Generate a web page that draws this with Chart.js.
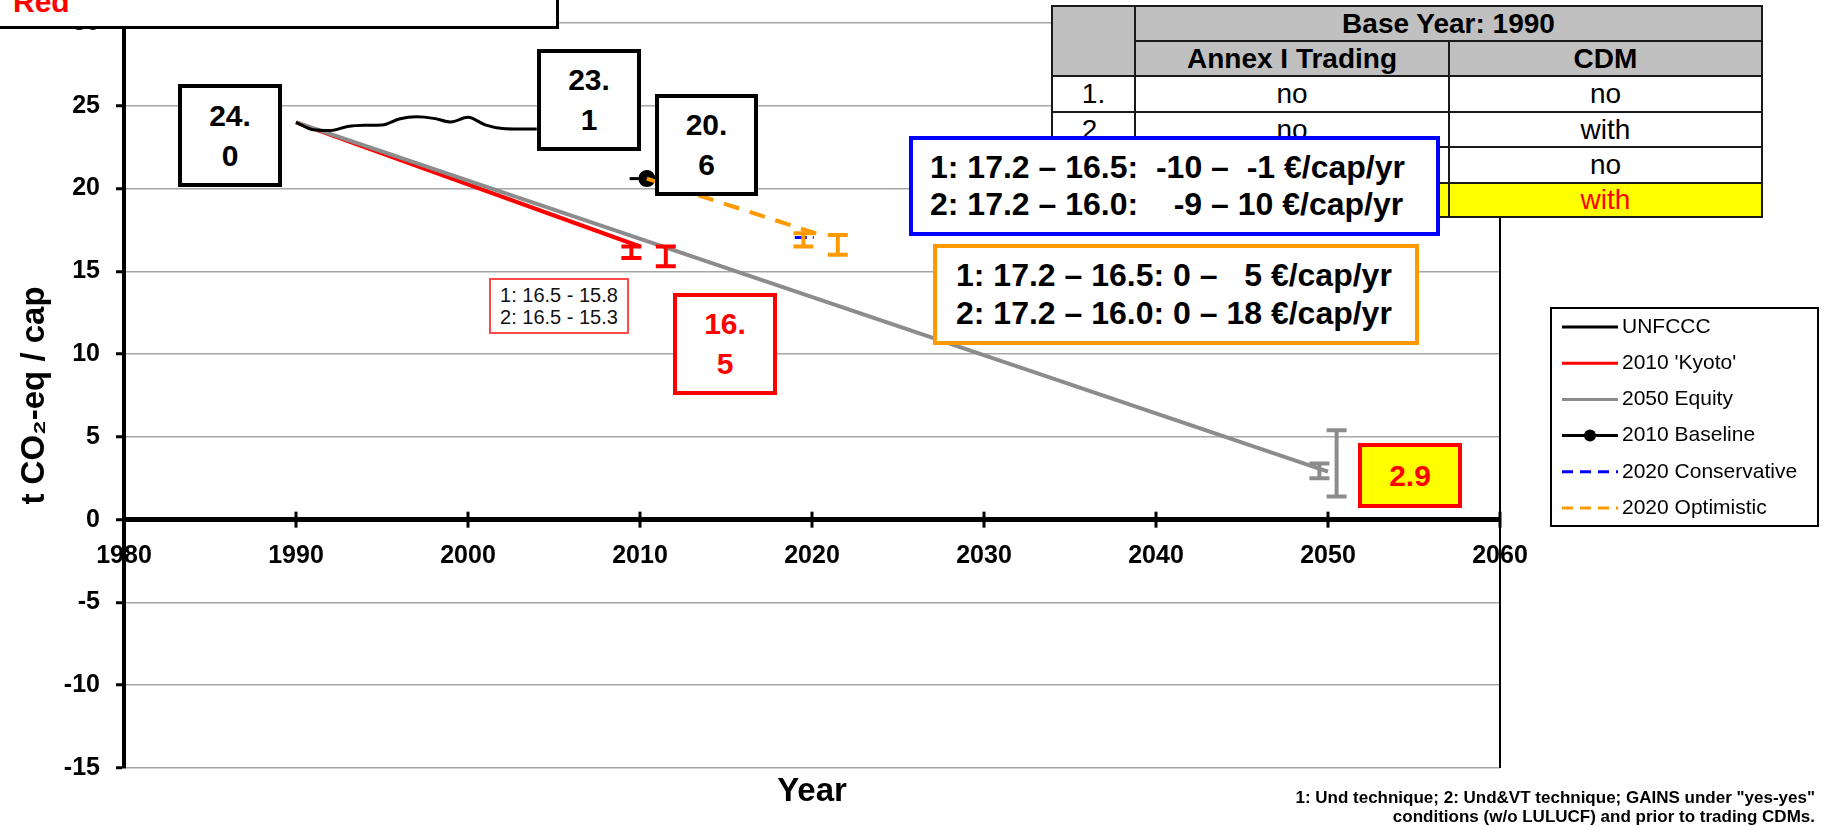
<!DOCTYPE html>
<html>
<head>
<meta charset="utf-8">
<script src="https://cdn.jsdelivr.net/npm/chart.js@4/dist/chart.umd.min.js"></script>
<style>
html, body { margin: 0; padding: 0; background: #fff; }
#wrap { position: relative; width: 1824px; height: 826px; overflow: hidden; font-family: "Liberation Sans", Arial, sans-serif; }
#chart { position: absolute; left: 0; top: 0; }
.box { position: absolute; box-sizing: border-box; background: #fff; text-align: center; font-weight: bold; display: flex; flex-direction: column; justify-content: center; align-items: center; z-index: 2; }
.num { border: 4px solid #000; font-size: 30px; line-height: 40px; color: #000; }
.numred { border: 4px solid #ff0000; font-size: 30px; line-height: 40px; color: #ff0000; }
.cost { align-items: flex-start; font-size: 32px; line-height: 37.5px; white-space: pre; color: #000; }
table.cfg { position: absolute; left: 1051px; top: 5px; border-collapse: collapse; z-index: 1; background: #fff; }
table.cfg td { border: 2px solid #1a1a1a; padding: 0; text-align: center; vertical-align: middle; }
table.cfg td.h { background: #c0c0c0; font-weight: bold; font-size: 28px; }
table.cfg td.b { font-family: "Liberation Sans Narrow", "Liberation Sans", Arial, sans-serif; font-size: 28px; }
table.cfg td.y { background: #ffff00; }
</style>
</head>
<body>
<div id="wrap">
  <canvas id="chart" width="1824" height="826"></canvas>

  <div class="box" style="left:-4px; top:-70px; width:563px; height:99px; border:3px solid #000;"></div>
  <div style="position:absolute; left:13px; top:-13px; font-weight:bold; font-size:30px; line-height:30px; color:#ff0000; z-index:3;">Red</div>

  <table class="cfg">
    <tr style="height:35px;"><td class="h" rowspan="2" style="width:81px;"></td><td class="h" colspan="2">Base Year: 1990</td></tr>
    <tr style="height:35px;"><td class="h" style="width:312px;">Annex I Trading</td><td class="h" style="width:311px;">CDM</td></tr>
    <tr style="height:36px;"><td class="b">1.</td><td class="b">no</td><td class="b">no</td></tr>
    <tr style="height:35px;"><td class="b">2.</td><td class="b">no</td><td class="b">with</td></tr>
    <tr style="height:36px;"><td class="b">3.</td><td class="b">with</td><td class="b">no</td></tr>
    <tr style="height:34px;"><td class="b y">4.</td><td class="b y">with</td><td class="b y" style="color:#ff0000;">with</td></tr>
  </table>

  <div class="box num" style="left:178px; top:84px; width:104px; height:103px;"><div>24.</div><div>0</div></div>
  <div class="box num" style="left:537px; top:49px; width:104px; height:102px;"><div>23.</div><div>1</div></div>
  <div class="box num" style="left:655px; top:94px; width:103px; height:102px;"><div>20.</div><div>6</div></div>
  <div class="box numred" style="left:673px; top:293px; width:104px; height:102px;"><div>16.</div><div>5</div></div>
  <div class="box" style="left:489px; top:278px; width:140px; height:56px; border:2px solid #ff4a4a; font-weight:normal; font-size:20px; line-height:22.5px; color:#111;"><div>1: 16.5 - 15.8</div><div>2: 16.5 - 15.3</div></div>
  <div class="box cost" style="left:909px; top:136px; width:531px; height:100px; border:4px solid #0000ff; padding-left:17px; z-index:4;"><div>1: 17.2 – 16.5:  -10 –  -1 €/cap/yr</div><div>2: 17.2 – 16.0:    -9 – 10 €/cap/yr</div></div>
  <div class="box cost" style="left:933px; top:244px; width:486px; height:101px; border:4px solid #ff9900; padding-left:19px;"><div>1: 17.2 – 16.5: 0 –   5 €/cap/yr</div><div>2: 17.2 – 16.0: 0 – 18 €/cap/yr</div></div>
  <div class="box numred" style="left:1358px; top:443px; width:104px; height:65px; background:#ffff00;"><div>2.9</div></div>

  <div style="position:absolute; left:712px; width:200px; top:773px; text-align:center; font-weight:bold; font-size:33px; line-height:33px; color:#000;">Year</div>
  <div style="position:absolute; right:9px; top:788px; text-align:right; font-weight:bold; font-size:17px; line-height:19px; color:#000; white-space:pre;">1: Und technique; 2: Und&amp;VT technique; GAINS under "yes-yes"
conditions (w/o LULUCF) and prior to trading CDMs.</div>
</div>

<script>
// ---- data ----
const xTickValues = [1980, 1990, 2000, 2010, 2020, 2030, 2040, 2050, 2060];
const yTickValues = [-15, -10, -5, 0, 5, 10, 15, 20, 25, 30];

const seriesLabels = ['UNFCCC', "2010 'Kyoto'", '2050 Equity', '2010 Baseline', '2020 Conservative', '2020 Optimistic'];

const unfcccYears  = [1990, 1991, 1992, 1993, 1994, 1995, 1996, 1997, 1998, 1999, 2000, 2001, 2002, 2003, 2004];
const unfcccValues = [24.0, 23.55, 23.5, 23.75, 23.82, 23.84, 24.2, 24.33, 24.24, 24.02, 24.3, 23.85, 23.63, 23.6, 23.6];

const kyotoYears  = [1990, 2010];
const kyotoValues = [24.0, 16.5];

const equityYears  = [1990, 2050];
const equityValues = [24.0, 2.9];

const baselineYears  = [2009.4, 2010.4];
const baselineValues = [20.6, 20.6];

const conservativeYears  = [2019.0, 2020.1];
const conservativeValues = [17.05, 17.05];

const optimisticYears  = [2010.4, 2020.5];
const optimisticValues = [20.6, 17.2];

const kyotoRangeYears = [2009.5, 2011.5];
const kyotoRangeLow   = [15.8, 15.3];
const kyotoRangeHigh  = [16.5, 16.5];

const optimisticRangeYears = [2019.5, 2021.5];
const optimisticRangeLow   = [16.5, 16.0];
const optimisticRangeHigh  = [17.3, 17.2];

const equityRangeYears = [2049.5, 2050.5];
const equityRangeLow   = [2.5, 1.4];
const equityRangeHigh  = [3.4, 5.4];

// ---- helpers ----
function pts(xs, ys) { return xs.map((x, i) => ({ x: x, y: ys[i] })); }

const FONT = '"Liberation Sans", Arial, sans-serif';
Chart.defaults.font.family = FONT;
Chart.defaults.color = '#000';

const errorBars = [
  { color: '#ff0000', xs: kyotoRangeYears, lo: kyotoRangeLow, hi: kyotoRangeHigh },
  { color: '#ff9900', xs: optimisticRangeYears, lo: optimisticRangeLow, hi: optimisticRangeHigh },
  { color: '#8c8c8c', xs: equityRangeYears, lo: equityRangeLow, hi: equityRangeHigh }
];

const extrasPlugin = {
  id: 'extras',
  afterDatasetsDraw(chart) {
    const ctx = chart.ctx, xs = chart.scales.x, ys = chart.scales.y;
    ctx.save();
    errorBars.forEach(g => {
      ctx.strokeStyle = g.color;
      ctx.lineWidth = 4;
      g.xs.forEach((x, i) => {
        const px = xs.getPixelForValue(x);
        const pl = ys.getPixelForValue(g.lo[i]);
        const ph = ys.getPixelForValue(g.hi[i]);
        ctx.beginPath();
        ctx.moveTo(px, pl); ctx.lineTo(px, ph);
        ctx.moveTo(px - 10, pl); ctx.lineTo(px + 10, pl);
        ctx.moveTo(px - 10, ph); ctx.lineTo(px + 10, ph);
        ctx.stroke();
      });
    });
    ctx.restore();
  },
  afterDraw(chart) {
    const ctx = chart.ctx, xs = chart.scales.x, ys = chart.scales.y, a = chart.chartArea;
    ctx.save();
    // right border of plot
    ctx.strokeStyle = '#000'; ctx.lineWidth = 2;
    ctx.beginPath(); ctx.moveTo(a.right, a.top); ctx.lineTo(a.right, a.bottom); ctx.stroke();
    // x tick marks crossing the zero axis
    const y0 = ys.getPixelForValue(0);
    ctx.lineWidth = 3;
    xs.ticks.forEach(t => {
      const px = xs.getPixelForValue(t.value);
      ctx.beginPath(); ctx.moveTo(px, y0 - 8); ctx.lineTo(px, y0 + 8); ctx.stroke();
    });
    // legend
    const bx = 1551, by = 308, bw = 267, bh = 218;
    ctx.fillStyle = '#fff'; ctx.fillRect(bx, by, bw, bh);
    ctx.strokeStyle = '#000'; ctx.lineWidth = 2; ctx.strokeRect(bx, by, bw, bh);
    ctx.font = '21px ' + FONT;
    ctx.textBaseline = 'middle'; ctx.textAlign = 'left';
    chart.data.datasets.forEach((ds, i) => {
      const y = 327 + i * 36.2;
      ctx.strokeStyle = ds.borderColor;
      ctx.lineWidth = 3;
      ctx.setLineDash(ds.legendDash || []);
      ctx.beginPath(); ctx.moveTo(1562, y); ctx.lineTo(1618, y); ctx.stroke();
      ctx.setLineDash([]);
      if (ds.legendMarker) {
        ctx.fillStyle = ds.borderColor;
        ctx.beginPath(); ctx.arc(1590, y, 6, 0, Math.PI * 2); ctx.fill();
      }
      ctx.fillStyle = '#000';
      ctx.fillText(ds.label, 1622, y);
    });
    ctx.restore();
  }
};

new Chart(document.getElementById('chart'), {
  type: 'line',
  data: {
    datasets: [
      { label: seriesLabels[0], data: pts(unfcccYears, unfcccValues), borderColor: '#000000', borderWidth: 3, pointRadius: 0, cubicInterpolationMode: 'monotone', order: 2 },
      { label: seriesLabels[1], data: pts(kyotoYears, kyotoValues), borderColor: '#ff0000', borderWidth: 4, pointRadius: 0, order: 5 },
      { label: seriesLabels[2], data: pts(equityYears, equityValues), borderColor: '#8c8c8c', borderWidth: 4, pointRadius: 0, order: 4 },
      { label: seriesLabels[3], data: pts(baselineYears, baselineValues), borderColor: '#000000', borderWidth: 3, pointRadius: [0, 7], pointBackgroundColor: '#000000', pointBorderColor: '#000000', order: 3, legendMarker: true },
      { label: seriesLabels[4], data: pts(conservativeYears, conservativeValues), borderColor: '#0000ff', borderWidth: 3, borderDash: [12, 6], pointRadius: 0, order: 3, legendDash: [11, 7] },
      { label: seriesLabels[5], data: pts(optimisticYears, optimisticValues), borderColor: '#ff9900', borderWidth: 4, borderDash: [16, 11], pointRadius: 0, order: 1, legendDash: [11, 7] }
    ]
  },
  options: {
    responsive: false,
    animation: false,
    devicePixelRatio: 1,
    layout: { padding: { left: 0, top: 23, right: 324, bottom: 58 } },
    plugins: { legend: { display: false }, tooltip: { enabled: false } },
    scales: {
      x: {
        type: 'linear',
        position: { y: 0 },
        min: 1980, max: 2060,
        afterBuildTicks: s => { s.ticks = xTickValues.map(v => ({ value: v })); },
        grid: { display: false },
        border: { display: true, color: '#000', width: 5, z: 1 },
        ticks: { font: { size: 25, weight: 'bold' }, color: '#000', padding: 13, maxRotation: 0, autoSkip: false, callback: v => String(v) }
      },
      y: {
        type: 'linear',
        position: 'left',
        min: -15, max: 30,
        afterBuildTicks: s => { s.ticks = yTickValues.map(v => ({ value: v })); },
        afterFit: s => { s.width = 124; s.paddingTop = 0; s.paddingBottom = 0; },
        grid: { color: '#a6a6a6', lineWidth: 1.5, tickColor: '#000', tickLength: 8, tickWidth: 3 },
        border: { display: true, color: '#000', width: 4, z: 1 },
        ticks: { font: { size: 25, weight: 'bold' }, color: '#000', padding: 16, callback: v => String(v) },
        title: { display: true, text: 't CO\u2082-eq / cap', font: { size: 33, weight: 'bold' }, color: '#000', padding: { top: 15, bottom: 0 } }
      }
    }
  },
  plugins: [extrasPlugin]
});
</script>
</body>
</html>
